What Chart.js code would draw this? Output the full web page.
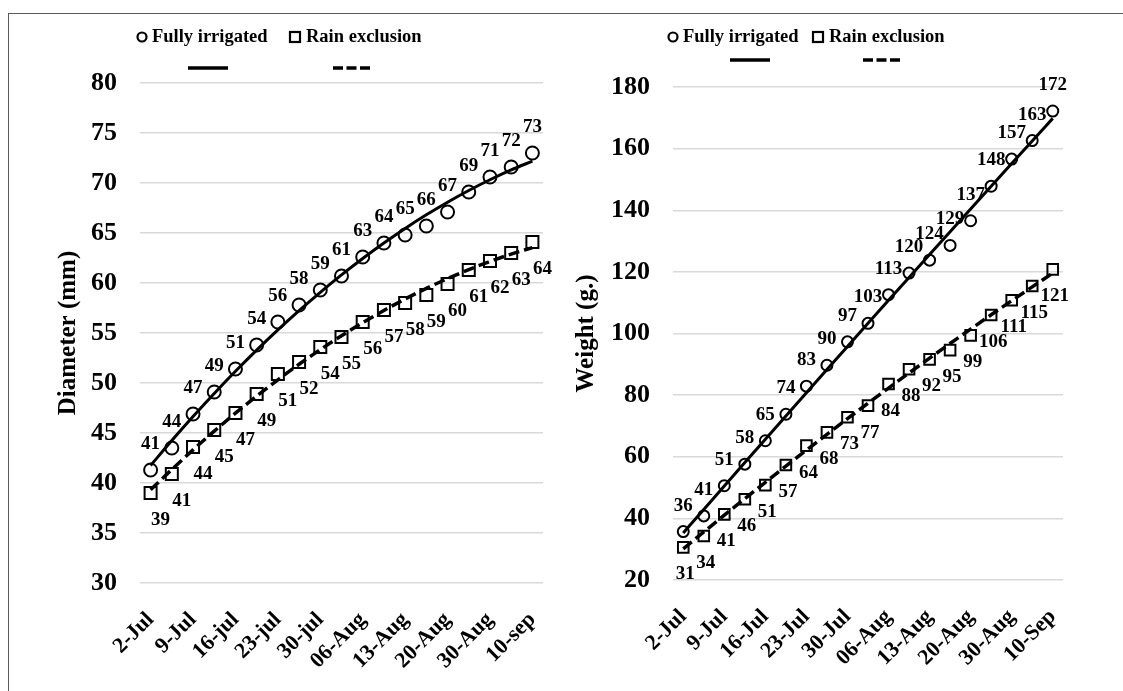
<!DOCTYPE html>
<html>
<head>
<meta charset="utf-8">
<script src="https://cdn.jsdelivr.net/npm/chart.js@4.4.1/dist/chart.umd.min.js"></script>
<style>
html, body { margin: 0; padding: 0; background: #fff; }
body { width: 1123px; height: 691px; position: relative; overflow: hidden; }
#frame { position: absolute; left: 8px; top: 13px; width: 1300px; height: 900px;
  border-left: 1.5px solid #595959; border-top: 1.5px solid #595959; }
.box { position: absolute; top: 14px; height: 677px; }
#left { left: 9px; width: 546px; }
#right { left: 556px; width: 567px; }
</style>
</head>
<body>
<div id="frame"></div>
<div class="box" id="left"><canvas id="diameter-chart"></canvas></div>
<div class="box" id="right"><canvas id="weight-chart"></canvas></div>
<script>
// categories (one label every second measurement, as on the original axis)
const diameterDates = ['2-Jul', '', '9-Jul', '', '16-jul', '', '23-jul', '', '30-jul', '',
  '06-Aug', '', '13-Aug', '', '20-Aug', '', '30-Aug', '', '10-sep'];
const weightDates = ['2-Jul', '', '9-Jul', '', '16-Jul', '', '23-Jul', '', '30-Jul', '',
  '06-Aug', '', '13-Aug', '', '20-Aug', '', '30-Aug', '', '10-Sep'];

// diameter (mm)
const diameterIrrigated = [41.3, 43.5, 46.9, 49.1, 51.4, 53.8, 56.1, 57.8, 59.3, 60.7,
  62.6, 64.0, 64.8, 65.7, 67.1, 69.1, 70.6, 71.6, 73.0];
const diameterRainExcl = [39.0, 40.9, 43.6, 45.3, 47.0, 48.9, 50.9, 52.1, 53.6, 54.6,
  56.1, 57.3, 58.0, 58.8, 59.9, 61.3, 62.2, 63.0, 64.1];

// weight (g.)
const weightIrrigated = [35.7, 40.8, 50.6, 57.6, 65.2, 73.8, 82.9, 89.7, 97.3, 103.3,
  112.6, 119.6, 123.8, 128.6, 136.6, 147.8, 156.6, 162.6, 172.2];
const weightRainExcl = [30.6, 34.3, 41.3, 46.2, 50.8, 57.3, 63.6, 67.9, 72.8, 76.6,
  83.6, 88.4, 91.6, 94.6, 99.4, 106.0, 110.8, 115.4, 120.8];

const FONT = '"Liberation Serif", "DejaVu Serif", serif';
Chart.defaults.font.family = FONT;
Chart.defaults.font.weight = 'bold';
Chart.defaults.color = '#000';

// 2nd order polynomial trendline (least squares, x = 1..n like Excel)
function trend(values) {
  const s = [0, 0, 0, 0, 0], t = [0, 0, 0];
  values.forEach((y, i) => {
    const x = i + 1;
    for (let k = 0; k < 5; k++) s[k] += Math.pow(x, k);
    for (let k = 0; k < 3; k++) t[k] += y * Math.pow(x, k);
  });
  const m = [[s[0], s[1], s[2], t[0]], [s[1], s[2], s[3], t[1]], [s[2], s[3], s[4], t[2]]];
  for (let c = 0; c < 3; c++) {
    for (let r = c + 1; r < 3; r++) {
      const f = m[r][c] / m[c][c];
      for (let k = c; k < 4; k++) m[r][k] -= f * m[c][k];
    }
  }
  const b = [0, 0, 0];
  for (let r = 2; r >= 0; r--) {
    let v = m[r][3];
    for (let k = r + 1; k < 3; k++) v -= m[r][k] * b[k];
    b[r] = v / m[r][r];
  }
  return values.map((y, i) => b[0] + b[1] * (i + 1) + b[2] * (i + 1) * (i + 1));
}

//value labels above / below the markers
const valueLabels = {
  id: 'valueLabels',
  afterDatasetsDraw(chart) {
    const ctx = chart.ctx;
    ctx.save();
    ctx.font = 'bold 19px ' + FONT;
    ctx.fillStyle = '#000';
    ctx.textAlign = 'center';
    ctx.textBaseline = 'middle';
    chart.data.datasets.forEach((ds, di) => {
      if (!ds.labelOffset) return;
      const meta = chart.getDatasetMeta(di);
      meta.data.forEach((pt, i) => {
        ctx.fillText(Math.round(ds.data[i]), pt.x + ds.labelOffset[0], pt.y + ds.labelOffset[1]);
      });
    });
    ctx.restore();
  }
};

// legend drawn like the excel one (markers on first row, trendlines below)
const excelLegend = {
  id: 'excelLegend',
  afterDraw(chart, args, opts) {
    const ctx = chart.ctx;
    ctx.save();
    ctx.font = 'bold 18.5px ' + FONT;
    ctx.fillStyle = '#000';
    ctx.strokeStyle = '#000';
    ctx.textBaseline = 'middle';
    ctx.lineWidth = 2.2;
    ctx.beginPath();
    ctx.arc(opts.circleX, opts.rowY, 4.5, 0, Math.PI * 2);
    ctx.stroke();
    ctx.strokeRect(opts.squareX - 5, opts.rowY - 5, 10, 10);
    ctx.fillText('Fully irrigated', opts.circleX + 10, opts.rowY);
    ctx.fillText('Rain exclusion', opts.squareX + 11, opts.rowY);
    ctx.lineWidth = 3.5;
    ctx.beginPath();
    ctx.moveTo(opts.solid[0], opts.lineY);
    ctx.lineTo(opts.solid[1], opts.lineY);
    ctx.stroke();
    ctx.setLineDash([10, 3.5]);
    ctx.beginPath();
    ctx.moveTo(opts.dashed[0], opts.lineY);
    ctx.lineTo(opts.dashed[1], opts.lineY);
    ctx.stroke();
    ctx.restore();
  }
};

function makeChart(canvas, cfg) {
  return new Chart(canvas, {
    type: 'line',
    data: {
      labels: cfg.labels,
      datasets: [{
        data: trend(cfg.irrigated),
        borderColor: '#000',
        borderWidth: 3,
        pointRadius: 0,
        cubicInterpolationMode: 'monotone',
        order: 0
      }, {
        data: trend(cfg.rainExcl),
        borderColor: '#000',
        borderWidth: 3.5,
        borderDash: [11, 5],
        pointRadius: 0,
        cubicInterpolationMode: 'monotone',
        order: 0
      }, {
        label: 'Fully irrigated',
        data: cfg.irrigated,
        showLine: false,
        pointStyle: 'circle',
        pointRadius: cfg.circleR,
        pointBorderWidth: 2,
        pointBorderColor: '#000',
        pointBackgroundColor: 'rgba(255,255,255,0)',
        labelOffset: [0, -26],
        order: 1
      }, {
        label: 'Rain exclusion',
        data: cfg.rainExcl,
        showLine: false,
        pointStyle: 'rect',
        pointRadius: cfg.rectR,
        pointBorderWidth: 2,
        pointBorderColor: '#000',
        pointBackgroundColor: 'rgba(255,255,255,0)',
        labelOffset: [cfg.rainDx, 27],
        order: 1
      }]
    },
    options: {
      responsive: true,
      maintainAspectRatio: false,
      animation: false,
      layout: { padding: cfg.padding },
      scales: {
        x: {
          offset: true,
          grid: { display: false },
          border: { display: false },
          ticks: {
            autoSkip: false,
            maxRotation: 45,
            minRotation: 45,
            padding: 16,
            font: { size: 22, weight: 'bold' }
          },
          afterFit: (scale) => {
            scale.height = cfg.xHeight;
            // keep the plot width fixed by layout padding only
            scale.paddingLeft = 0;
            scale.paddingRight = 0;
          }
        },
        y: {
          min: cfg.min,
          max: cfg.max,
          grid: { color: '#d9d9d9', lineWidth: 1.5, drawTicks: false },
          border: { display: false },
          ticks: {
            stepSize: cfg.step,
            padding: 23,
            font: { size: 26, weight: 'bold' }
          },
          title: {
            display: true,
            text: cfg.title,
            font: { size: 25, weight: 'bold' }
          },
          afterFit: (scale) => { scale.width = cfg.yWidth; }
        }
      },
      plugins: {
        legend: { display: false },
        tooltip: { enabled: false },
        excelLegend: cfg.legend
      }
    },
    plugins: [valueLabels, excelLegend]
  });
}

// left chart - diameter
let diameterChart = makeChart(document.getElementById('diameter-chart'), {
  labels: diameterDates,
  irrigated: diameterIrrigated,
  rainExcl: diameterRainExcl,
  min: 30, max: 80, step: 5,
  title: 'Diameter (mm)',
  circleR: 6.5, rectR: 8.5, rainDx: 10,
  padding: { top: 69, left: 41, right: 12, bottom: 0 },
  yWidth: 90, xHeight: 108,
  legend: { circleX: 133, squareX: 286, rowY: 23, lineY: 54, solid: [179, 219], dashed: [324, 361] }
});

// right chart - weight
let weightChart = makeChart(document.getElementById('weight-chart'), {
  labels: weightDates,
  irrigated: weightIrrigated,
  rainExcl: weightRainExcl,
  min: 20, max: 180, step: 20,
  title: 'Weight (g.)',
  circleR: 5.5, rectR: 7.5, rainDx: 2,
  padding: { top: 73, left: 12, right: 60, bottom: 0 },
  yWidth: 105, xHeight: 111,
  legend: { circleX: 117, squareX: 262, rowY: 23, lineY: 46, solid: [174, 214], dashed: [307, 345] }
});
</script>
</body>
</html>
